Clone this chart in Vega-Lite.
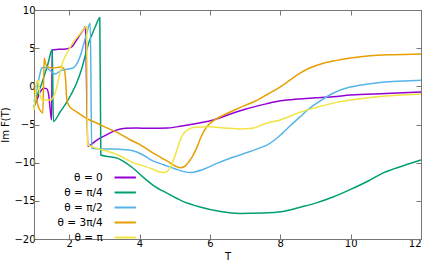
{
  "$schema": "https://vega.github.io/schema/vega-lite/v6.json",
  "width": 387,
  "height": 229,
  "autosize": {"type": "none"},
  "padding": {"left": 34, "top": 10, "right": 15, "bottom": 29},
  "config": {
    "view": {"stroke": "#777", "strokeWidth": 1},
    "font": "DejaVu Sans",
    "axis": {
      "domainColor": "#777",
      "tickColor": "#777",
      "tickSize": -5,
      "grid": false,
      "labelFont": "DejaVu Sans",
      "labelFontSize": 10,
      "labelColor": "#000",
      "titleFont": "DejaVu Sans",
      "titleFontSize": 10,
      "titleFontWeight": "normal",
      "titleColor": "#000"
    },
    "legend": {
      "labelFont": "DejaVu Sans",
      "labelFontSize": 10.5,
      "labelColor": "#000"
    }
  },
  "data": {
    "values": [
      {"s": "θ = 0", "T": 1.0, "v": -2.6}, {"s": "θ = 0", "T": 1.08, "v": -1.8}, {"s": "θ = 0", "T": 1.18, "v": -0.7}, {"s": "θ = 0", "T": 1.28, "v": -0.25}, {"s": "θ = 0", "T": 1.36, "v": -0.3}, {"s": "θ = 0", "T": 1.42, "v": -1.2}, {"s": "θ = 0", "T": 1.46, "v": -3.0}, {"s": "θ = 0", "T": 1.5, "v": -4.4}, {"s": "θ = 0", "T": 1.52, "v": 4.8}, {"s": "θ = 0", "T": 1.7, "v": 4.85}, {"s": "θ = 0", "T": 1.9, "v": 4.9}, {"s": "θ = 0", "T": 2.0, "v": 5.0}, {"s": "θ = 0", "T": 2.1, "v": 5.3}, {"s": "θ = 0", "T": 2.2, "v": 6.0}, {"s": "θ = 0", "T": 2.3, "v": 6.7}, {"s": "θ = 0", "T": 2.4, "v": 7.4}, {"s": "θ = 0", "T": 2.46, "v": 7.8}, {"s": "θ = 0", "T": 2.53, "v": -7.85}, {"s": "θ = 0", "T": 2.56, "v": -7.8}, {"s": "θ = 0", "T": 2.8, "v": -7.0}, {"s": "θ = 0", "T": 3.0, "v": -6.5}, {"s": "θ = 0", "T": 3.3, "v": -5.8}, {"s": "θ = 0", "T": 3.6, "v": -5.5}, {"s": "θ = 0", "T": 3.9, "v": -5.45}, {"s": "θ = 0", "T": 4.3, "v": -5.5}, {"s": "θ = 0", "T": 4.8, "v": -5.45}, {"s": "θ = 0", "T": 5.2, "v": -5.2}, {"s": "θ = 0", "T": 5.7, "v": -4.8}, {"s": "θ = 0", "T": 6.1, "v": -4.4}, {"s": "θ = 0", "T": 6.6, "v": -3.6}, {"s": "θ = 0", "T": 7.0, "v": -3.0}, {"s": "θ = 0", "T": 7.6, "v": -2.3}, {"s": "θ = 0", "T": 8.0, "v": -1.9}, {"s": "θ = 0", "T": 8.5, "v": -1.65}, {"s": "θ = 0", "T": 9.0, "v": -1.5}, {"s": "θ = 0", "T": 9.5, "v": -1.35}, {"s": "θ = 0", "T": 10.0, "v": -1.15}, {"s": "θ = 0", "T": 11.0, "v": -0.95}, {"s": "θ = 0", "T": 12.0, "v": -0.75},
      {"s": "θ = π/4", "T": 1.0, "v": -2.8}, {"s": "θ = π/4", "T": 1.06, "v": -1.6}, {"s": "θ = π/4", "T": 1.12, "v": -0.8}, {"s": "θ = π/4", "T": 1.2, "v": 0.1}, {"s": "θ = π/4", "T": 1.3, "v": 1.5}, {"s": "θ = π/4", "T": 1.4, "v": 3.0}, {"s": "θ = π/4", "T": 1.5, "v": 4.7}, {"s": "θ = π/4", "T": 1.52, "v": 4.8}, {"s": "θ = π/4", "T": 1.55, "v": -4.6}, {"s": "θ = π/4", "T": 1.75, "v": -3.3}, {"s": "θ = π/4", "T": 1.9, "v": -2.3}, {"s": "θ = π/4", "T": 2.05, "v": -1.1}, {"s": "θ = π/4", "T": 2.2, "v": 0.3}, {"s": "θ = π/4", "T": 2.35, "v": 2.2}, {"s": "θ = π/4", "T": 2.45, "v": 3.9}, {"s": "θ = π/4", "T": 2.55, "v": 5.6}, {"s": "θ = π/4", "T": 2.65, "v": 6.8}, {"s": "θ = π/4", "T": 2.75, "v": 7.9}, {"s": "θ = π/4", "T": 2.87, "v": 9.0}, {"s": "θ = π/4", "T": 2.9, "v": -9.0}, {"s": "θ = π/4", "T": 3.1, "v": -9.2}, {"s": "θ = π/4", "T": 3.36, "v": -9.4}, {"s": "θ = π/4", "T": 3.6, "v": -10.0}, {"s": "θ = π/4", "T": 3.81, "v": -10.7}, {"s": "θ = π/4", "T": 4.1, "v": -11.9}, {"s": "θ = π/4", "T": 4.4, "v": -13.0}, {"s": "θ = π/4", "T": 4.78, "v": -14.0}, {"s": "θ = π/4", "T": 5.2, "v": -15.0}, {"s": "θ = π/4", "T": 5.72, "v": -15.8}, {"s": "θ = π/4", "T": 6.3, "v": -16.4}, {"s": "θ = π/4", "T": 6.85, "v": -16.65}, {"s": "θ = π/4", "T": 7.5, "v": -16.6}, {"s": "θ = π/4", "T": 8.07, "v": -16.4}, {"s": "θ = π/4", "T": 8.6, "v": -15.8}, {"s": "θ = π/4", "T": 9.0, "v": -15.3}, {"s": "θ = π/4", "T": 9.5, "v": -14.5}, {"s": "θ = π/4", "T": 10.0, "v": -13.5}, {"s": "θ = π/4", "T": 10.5, "v": -12.4}, {"s": "θ = π/4", "T": 10.9, "v": -11.4}, {"s": "θ = π/4", "T": 11.5, "v": -10.4}, {"s": "θ = π/4", "T": 12.0, "v": -9.65},
      {"s": "θ = π/2", "T": 1.0, "v": -2.0}, {"s": "θ = π/2", "T": 1.06, "v": -0.9}, {"s": "θ = π/2", "T": 1.15, "v": 1.2}, {"s": "θ = π/2", "T": 1.22, "v": 2.4}, {"s": "θ = π/2", "T": 1.3, "v": 2.5}, {"s": "θ = π/2", "T": 1.4, "v": 2.3}, {"s": "θ = π/2", "T": 1.5, "v": 1.9}, {"s": "θ = π/2", "T": 1.6, "v": 1.6}, {"s": "θ = π/2", "T": 1.74, "v": 2.0}, {"s": "θ = π/2", "T": 1.9, "v": 2.2}, {"s": "θ = π/2", "T": 2.11, "v": 2.4}, {"s": "θ = π/2", "T": 2.2, "v": 2.8}, {"s": "θ = π/2", "T": 2.31, "v": 3.9}, {"s": "θ = π/2", "T": 2.4, "v": 5.3}, {"s": "θ = π/2", "T": 2.5, "v": 7.0}, {"s": "θ = π/2", "T": 2.6, "v": 8.25}, {"s": "θ = π/2", "T": 2.64, "v": -8.1}, {"s": "θ = π/2", "T": 2.92, "v": -8.2}, {"s": "θ = π/2", "T": 3.3, "v": -8.2}, {"s": "θ = π/2", "T": 3.59, "v": -8.3}, {"s": "θ = π/2", "T": 3.81, "v": -8.45}, {"s": "θ = π/2", "T": 4.1, "v": -9.0}, {"s": "θ = π/2", "T": 4.35, "v": -9.7}, {"s": "θ = π/2", "T": 4.7, "v": -10.3}, {"s": "θ = π/2", "T": 5.0, "v": -10.8}, {"s": "θ = π/2", "T": 5.43, "v": -11.3}, {"s": "θ = π/2", "T": 5.8, "v": -10.9}, {"s": "θ = π/2", "T": 6.2, "v": -10.1}, {"s": "θ = π/2", "T": 6.65, "v": -9.3}, {"s": "θ = π/2", "T": 7.1, "v": -8.6}, {"s": "θ = π/2", "T": 7.4, "v": -8.1}, {"s": "θ = π/2", "T": 7.62, "v": -7.7}, {"s": "θ = π/2", "T": 7.85, "v": -7.0}, {"s": "θ = π/2", "T": 8.07, "v": -6.1}, {"s": "θ = π/2", "T": 8.3, "v": -5.1}, {"s": "θ = π/2", "T": 8.56, "v": -4.0}, {"s": "θ = π/2", "T": 8.8, "v": -3.0}, {"s": "θ = π/2", "T": 9.04, "v": -2.2}, {"s": "θ = π/2", "T": 9.5, "v": -0.9}, {"s": "θ = π/2", "T": 9.98, "v": -0.1}, {"s": "θ = π/2", "T": 10.4, "v": 0.25}, {"s": "θ = π/2", "T": 10.9, "v": 0.55}, {"s": "θ = π/2", "T": 11.5, "v": 0.7}, {"s": "θ = π/2", "T": 12.0, "v": 0.8},
      {"s": "θ = 3π/4", "T": 1.0, "v": -0.4}, {"s": "θ = 3π/4", "T": 1.06, "v": -1.4}, {"s": "θ = 3π/4", "T": 1.12, "v": -2.6}, {"s": "θ = 3π/4", "T": 1.2, "v": -3.3}, {"s": "θ = 3π/4", "T": 1.25, "v": -3.5}, {"s": "θ = 3π/4", "T": 1.29, "v": 3.7}, {"s": "θ = 3π/4", "T": 1.33, "v": 3.0}, {"s": "θ = 3π/4", "T": 1.37, "v": 2.6}, {"s": "θ = 3π/4", "T": 1.5, "v": 2.4}, {"s": "θ = 3π/4", "T": 1.65, "v": 2.45}, {"s": "θ = 3π/4", "T": 1.76, "v": 2.55}, {"s": "θ = 3π/4", "T": 1.85, "v": 2.3}, {"s": "θ = 3π/4", "T": 1.9, "v": 0.8}, {"s": "θ = 3π/4", "T": 1.93, "v": -1.6}, {"s": "θ = 3π/4", "T": 1.97, "v": -2.3}, {"s": "θ = 3π/4", "T": 2.02, "v": -2.7}, {"s": "θ = 3π/4", "T": 2.2, "v": -3.3}, {"s": "θ = 3π/4", "T": 2.45, "v": -4.1}, {"s": "θ = 3π/4", "T": 2.78, "v": -4.8}, {"s": "θ = 3π/4", "T": 3.1, "v": -5.5}, {"s": "θ = 3π/4", "T": 3.39, "v": -6.1}, {"s": "θ = 3π/4", "T": 3.73, "v": -7.0}, {"s": "θ = 3π/4", "T": 4.0, "v": -7.6}, {"s": "θ = 3π/4", "T": 4.3, "v": -8.5}, {"s": "θ = 3π/4", "T": 4.6, "v": -9.3}, {"s": "θ = 3π/4", "T": 4.86, "v": -10.0}, {"s": "θ = 3π/4", "T": 5.0, "v": -10.4}, {"s": "θ = 3π/4", "T": 5.15, "v": -10.65}, {"s": "θ = 3π/4", "T": 5.28, "v": -10.5}, {"s": "θ = 3π/4", "T": 5.38, "v": -10.0}, {"s": "θ = 3π/4", "T": 5.5, "v": -9.2}, {"s": "θ = 3π/4", "T": 5.63, "v": -8.0}, {"s": "θ = 3π/4", "T": 5.75, "v": -6.6}, {"s": "θ = 3π/4", "T": 5.91, "v": -5.3}, {"s": "θ = 3π/4", "T": 6.1, "v": -4.5}, {"s": "θ = 3π/4", "T": 6.37, "v": -3.8}, {"s": "θ = 3π/4", "T": 6.7, "v": -3.1}, {"s": "θ = 3π/4", "T": 7.05, "v": -2.4}, {"s": "θ = 3π/4", "T": 7.35, "v": -1.8}, {"s": "θ = 3π/4", "T": 7.62, "v": -1.1}, {"s": "θ = 3π/4", "T": 7.99, "v": -0.1}, {"s": "θ = 3π/4", "T": 8.27, "v": 0.8}, {"s": "θ = 3π/4", "T": 8.55, "v": 1.7}, {"s": "θ = 3π/4", "T": 8.84, "v": 2.4}, {"s": "θ = 3π/4", "T": 9.2, "v": 3.0}, {"s": "θ = 3π/4", "T": 9.6, "v": 3.4}, {"s": "θ = 3π/4", "T": 10.0, "v": 3.7}, {"s": "θ = 3π/4", "T": 10.55, "v": 4.0}, {"s": "θ = 3π/4", "T": 11.2, "v": 4.15}, {"s": "θ = 3π/4", "T": 12.0, "v": 4.25},
      {"s": "θ = π", "T": 1.0, "v": -3.1}, {"s": "θ = π", "T": 1.04, "v": -1.3}, {"s": "θ = π", "T": 1.07, "v": 0.4}, {"s": "θ = π", "T": 1.12, "v": 0.8}, {"s": "θ = π", "T": 1.17, "v": -1.2}, {"s": "θ = π", "T": 1.25, "v": -1.8}, {"s": "θ = π", "T": 1.45, "v": -1.8}, {"s": "θ = π", "T": 1.6, "v": -0.9}, {"s": "θ = π", "T": 1.69, "v": 0.8}, {"s": "θ = π", "T": 1.79, "v": 2.8}, {"s": "θ = π", "T": 1.93, "v": 4.3}, {"s": "θ = π", "T": 2.12, "v": 5.8}, {"s": "θ = π", "T": 2.31, "v": 6.9}, {"s": "θ = π", "T": 2.5, "v": 7.8}, {"s": "θ = π", "T": 2.52, "v": -7.6}, {"s": "θ = π", "T": 2.7, "v": -8.0}, {"s": "θ = π", "T": 2.92, "v": -8.3}, {"s": "θ = π", "T": 3.15, "v": -8.6}, {"s": "θ = π", "T": 3.39, "v": -9.0}, {"s": "θ = π", "T": 3.6, "v": -9.5}, {"s": "θ = π", "T": 3.81, "v": -10.0}, {"s": "θ = π", "T": 4.1, "v": -10.4}, {"s": "θ = π", "T": 4.35, "v": -10.8}, {"s": "θ = π", "T": 4.55, "v": -11.2}, {"s": "θ = π", "T": 4.7, "v": -11.3}, {"s": "θ = π", "T": 4.82, "v": -11.0}, {"s": "θ = π", "T": 4.92, "v": -10.2}, {"s": "θ = π", "T": 5.05, "v": -8.5}, {"s": "θ = π", "T": 5.15, "v": -7.1}, {"s": "θ = π", "T": 5.25, "v": -6.2}, {"s": "θ = π", "T": 5.4, "v": -5.6}, {"s": "θ = π", "T": 5.6, "v": -5.35}, {"s": "θ = π", "T": 6.0, "v": -5.3}, {"s": "θ = π", "T": 6.4, "v": -5.45}, {"s": "θ = π", "T": 6.9, "v": -5.6}, {"s": "θ = π", "T": 7.2, "v": -5.5}, {"s": "θ = π", "T": 7.62, "v": -4.8}, {"s": "θ = π", "T": 8.0, "v": -4.4}, {"s": "θ = π", "T": 8.56, "v": -3.4}, {"s": "θ = π", "T": 9.0, "v": -2.8}, {"s": "θ = π", "T": 9.5, "v": -2.2}, {"s": "θ = π", "T": 10.0, "v": -1.8}, {"s": "θ = π", "T": 10.5, "v": -1.5}, {"s": "θ = π", "T": 11.2, "v": -1.2}, {"s": "θ = π", "T": 12.0, "v": -1.0}
    ]
  },
  "layer": [
    {
      "mark": {"type": "line", "interpolate": "monotone", "strokeWidth": 1.5},
      "encoding": {
        "x": {"field": "T", "type": "quantitative", "scale": {"domain": [1, 12], "nice": false, "zero": false},
              "axis": {"orient": "bottom", "values": [2, 4, 6, 8, 10, 12], "title": "T", "labelPadding": 4, "titlePadding": 3}},
        "y": {"field": "v", "type": "quantitative", "scale": {"domain": [-20, 10], "nice": false, "zero": false},
              "axis": {"orient": "left", "values": [-20, -15, -10, -5, 0, 5, 10], "title": "Im F(T)", "labelPadding": 4, "titlePadding": 3}},
        "color": {"field": "s", "type": "nominal", "sort": null,
                  "scale": {"domain": ["θ = 0", "θ = π/4", "θ = π/2", "θ = 3π/4", "θ = π"],
                            "range": ["#9400d3", "#009e73", "#56b4e9", "#e69f00", "#f0e442"]},
                  "legend": {"title": null, "orient": "none", "legendX": 66, "legendY": 161,
                             "symbolType": "M-2,0H2", "symbolSize": 114, "symbolStrokeWidth": 2,
                             "symbolOffset": 18.7,
                             "labelAlign": "right", "labelOffset": -29, "rowPadding": 3}}
      }
    },
    {
      "mark": {"type": "line", "opacity": 0},
      "encoding": {
        "x": {"field": "T", "type": "quantitative", "axis": {"orient": "top", "values": [2, 4, 6, 8, 10, 12], "labels": false, "title": null}},
        "y": {"field": "v", "type": "quantitative", "axis": {"orient": "right", "values": [-20, -15, -10, -5, 0, 5, 10], "labels": false, "title": null}},
        "detail": {"field": "s"}
      }
    }
  ],
  "resolve": {"axis": {"x": "independent", "y": "independent"}}
}
